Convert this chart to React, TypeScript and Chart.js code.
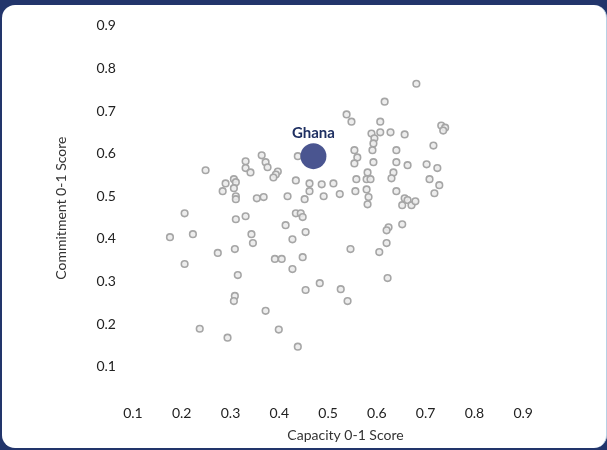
import { useEffect, useRef } from "react";
import { Chart, registerables } from "chart.js";

Chart.register(...registerables);

// Capacity (x) and Commitment (y) scores for each country
const capacity = [
  0.681, 0.616, 0.538, 0.548, 0.607, 0.732, 0.740, 0.736, 0.589, 0.607,
  0.628, 0.657, 0.595, 0.593, 0.716, 0.554, 0.591, 0.640, 0.438, 0.560,
  0.554, 0.593, 0.640, 0.663, 0.702, 0.724, 0.364, 0.331, 0.372, 0.376,
  0.331, 0.341, 0.249, 0.397, 0.393, 0.388, 0.581, 0.634, 0.630, 0.558,
  0.579, 0.587, 0.708, 0.434, 0.307, 0.290, 0.311, 0.307, 0.284, 0.462,
  0.487, 0.511, 0.462, 0.728, 0.556, 0.579, 0.640, 0.718, 0.524, 0.491,
  0.583, 0.311, 0.311, 0.354, 0.368, 0.417, 0.452, 0.657, 0.663, 0.652,
  0.671, 0.679, 0.581, 0.206, 0.434, 0.444, 0.448, 0.311, 0.331, 0.413,
  0.454, 0.427, 0.343, 0.346, 0.176, 0.223, 0.274, 0.309, 0.624, 0.620,
  0.652, 0.620, 0.605, 0.546, 0.391, 0.405, 0.448, 0.206, 0.427, 0.315,
  0.622, 0.483, 0.454, 0.526, 0.540, 0.309, 0.307, 0.372, 0.237, 0.294,
  0.399, 0.438,
];
const commitment = [
  0.764, 0.722, 0.692, 0.675, 0.675, 0.666, 0.661, 0.654, 0.647, 0.650,
  0.650, 0.645, 0.636, 0.624, 0.619, 0.608, 0.608, 0.608, 0.594, 0.591,
  0.577, 0.580, 0.580, 0.573, 0.575, 0.566, 0.596, 0.582, 0.580, 0.568,
  0.566, 0.556, 0.561, 0.558, 0.551, 0.544, 0.556, 0.556, 0.542, 0.540,
  0.540, 0.540, 0.540, 0.537, 0.540, 0.530, 0.533, 0.519, 0.512, 0.530,
  0.528, 0.530, 0.512, 0.526, 0.512, 0.516, 0.512, 0.507, 0.505, 0.500,
  0.498, 0.500, 0.493, 0.495, 0.498, 0.500, 0.493, 0.495, 0.491, 0.479,
  0.479, 0.488, 0.481, 0.460, 0.460, 0.460, 0.451, 0.446, 0.453, 0.432,
  0.416, 0.399, 0.411, 0.390, 0.404, 0.411, 0.367, 0.376, 0.427, 0.420,
  0.434, 0.390, 0.369, 0.376, 0.353, 0.353, 0.357, 0.341, 0.329, 0.315,
  0.308, 0.296, 0.280, 0.282, 0.254, 0.266, 0.254, 0.231, 0.189, 0.168,
  0.187, 0.147,
];

const highlightName = "Ghana";
const highlightCapacity = [0.47];
const highlightCommitment = [0.594];

const xTickValues = [0.1, 0.2, 0.3, 0.4, 0.5, 0.6, 0.7, 0.8, 0.9];
const yTickValues = [0.1, 0.2, 0.3, 0.4, 0.5, 0.6, 0.7, 0.8, 0.9];

const xTitle = "Capacity 0-1 Score";
const yTitle = "Commitment 0-1 Score";

const FONT = "Lato, 'Noto Sans', sans-serif";

export default function App() {
  const canvasRef = useRef<HTMLCanvasElement | null>(null);

  useEffect(() => {
    const canvas = canvasRef.current;
    if (!canvas) return;

    const labelPlugin = {
      id: "highlightLabel",
      afterDatasetsDraw(chart: any) {
        const { ctx, scales } = chart;
        const px = scales.x.getPixelForValue(highlightCapacity[0]);
        const py = scales.y.getPixelForValue(highlightCommitment[0]);
        ctx.save();
        ctx.font = `bold 15px ${FONT}`;
        ctx.fillStyle = "#1f3062";
        ctx.textAlign = "center";
        ctx.textBaseline = "middle";
        ctx.fillText(highlightName, px, py - 23);
        ctx.restore();
      },
    };

    const chart = new Chart(canvas, {
      type: "scatter",
      data: {
        datasets: [
          {
            label: highlightName,
            data: highlightCapacity.map((x, i) => ({ x, y: highlightCommitment[i] })),
            pointRadius: 13,
            pointHoverRadius: 13,
            backgroundColor: "#4a5590",
            borderColor: "#4a5590",
            borderWidth: 0,
            order: 0,
          },
          {
            label: "Countries",
            data: capacity.map((x, i) => ({ x, y: commitment[i] })),
            pointRadius: 3.3,
            pointHoverRadius: 3.3,
            backgroundColor: "rgba(235,235,235,0.9)",
            borderColor: "#a6a6a6",
            borderWidth: 1.6,
            order: 1,
          },
        ],
      },
      options: {
        responsive: false,
        animation: false,
        layout: { padding: { left: 48.6, right: 35, top: 10.5, bottom: 2.6 } },
        plugins: {
          legend: { display: false },
          tooltip: { enabled: false },
        },
        scales: {
          x: {
            type: "linear",
            min: 0.0714,
            max: 1.0,
            grid: { display: false, drawTicks: false },
            border: { display: false },
            afterBuildTicks: (s: any) => {
              s.ticks = xTickValues.map((value) => ({ value }));
            },
            ticks: {
              padding: 2,
              color: "#222",
              font: { family: FONT, size: 14 },
              callback: (v: any) => Number(v).toFixed(1),
            },
            title: {
              display: true,
              text: xTitle,
              color: "#333",
              font: { family: FONT, size: 14 },
              padding: { top: 2.5, bottom: 4 },
            },
          },
          y: {
            type: "linear",
            min: 0.0141,
            max: 0.93,
            grid: { display: false, drawTicks: false },
            border: { display: false },
            afterBuildTicks: (s: any) => {
              s.ticks = yTickValues.map((value) => ({ value }));
            },
            ticks: {
              padding: 3,
              color: "#222",
              font: { family: FONT, size: 14 },
              callback: (v: any) => Number(v).toFixed(1),
            },
            title: {
              display: true,
              text: yTitle,
              color: "#333",
              font: { family: FONT, size: 14 },
              padding: { top: 4, bottom: 24 },
            },
          },
        },
      },
      plugins: [labelPlugin],
    });

    return () => chart.destroy();
  }, []);

  return (
    <div
      style={{
        position: "fixed",
        left: 0,
        top: 0,
        width: 607,
        height: 450,
        background: "#22356b",
        overflow: "hidden",
      }}
    >
      <div
        style={{
          position: "absolute",
          left: 2,
          top: 5,
          width: 604,
          height: 443,
          background: "#ffffff",
          borderRadius: 13,
          borderRight: "1px solid #b7d0e4",
        }}
      />
      <canvas
        ref={canvasRef}
        width={607}
        height={450}
        style={{ position: "absolute", left: 0, top: 0, width: 607, height: 450 }}
      />
    </div>
  );
}
